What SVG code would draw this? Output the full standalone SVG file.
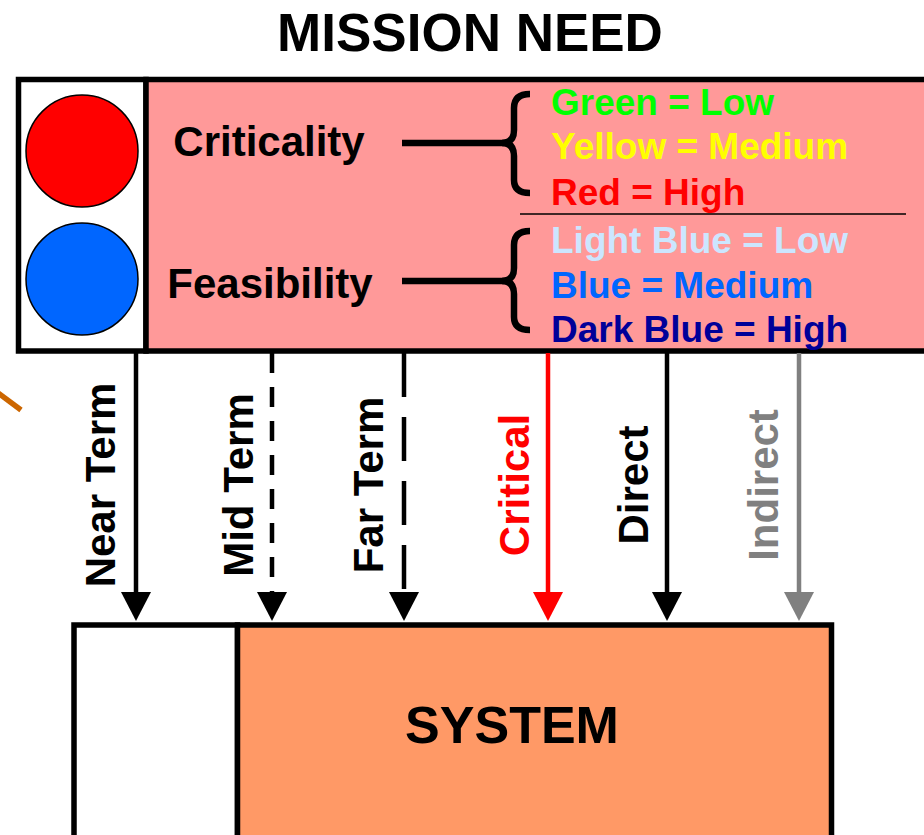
<svg xmlns="http://www.w3.org/2000/svg" width="924" height="835" viewBox="0 0 924 835">
<defs>
<style>
text{font-family:"Liberation Sans",Arial,sans-serif;font-weight:bold}
.box{stroke:#000;stroke-width:5.5}
.brace{fill:none;stroke:#000;stroke-width:6.5;stroke-linecap:butt}
.lbl{font-size:42px;text-anchor:middle}
.leg{font-size:37px}
.arr{stroke-width:4.5;fill:none}
</style>
</defs>
<rect width="924" height="835" fill="#fff"/>
<text x="470" y="51" font-size="53" text-anchor="middle" fill="#000">MISSION NEED</text>
<line x1="-10" y1="387" x2="21" y2="410" stroke="#CC6600" stroke-width="5.5"/>
<g id="mission-need">
<rect class="box" x="18.5" y="79.5" width="127.5" height="271.5" fill="#fff"/>
<rect class="box" x="146" y="79.5" width="790" height="271.5" fill="#FF9999"/>
<circle cx="82" cy="151" r="56" fill="#FF0000" stroke="#000" stroke-width="1.5"/>
<circle cx="82" cy="279" r="56" fill="#0066FF" stroke="#000" stroke-width="1.5"/>
<text class="lbl" x="269" y="156">Criticality</text>
<text class="lbl" x="270" y="298">Feasibility</text>
<line x1="402" y1="143" x2="507" y2="143" stroke="#000" stroke-width="6.5"/>
<path class="brace" d="M530 94 Q514 94 514 108 L514 130 Q514 143 502 143 Q514 143 514 156 L514 180 Q514 193 530 193"/>
<line x1="402" y1="281" x2="507" y2="281" stroke="#000" stroke-width="6.5"/>
<path class="brace" d="M530 231 Q514 231 514 245 L514 268 Q514 281 502 281 Q514 281 514 294 L514 317 Q514 330 530 330"/>
<line x1="520" y1="214" x2="906" y2="214" stroke="#000" stroke-width="1.5"/>
<text class="leg" x="551" y="115" fill="#00FF00">Green = Low</text>
<text class="leg" x="551" y="159" fill="#FFFF00">Yellow = Medium</text>
<text class="leg" x="551" y="205" fill="#FF0000">Red = High</text>
<text class="leg" x="551" y="253" fill="#CCE6FF">Light Blue = Low</text>
<text class="leg" x="551" y="298" fill="#0066FF">Blue = Medium</text>
<text class="leg" x="551" y="342" fill="#000099">Dark Blue = High</text>
</g>
<g id="system">
<rect class="box" x="74" y="625" width="163.5" height="230" fill="#fff"/>
<rect class="box" x="237.5" y="625" width="594" height="230" fill="#FF9966"/>
<text x="512" y="743" font-size="52" text-anchor="middle" fill="#000">SYSTEM</text>
</g>
<g id="connectors">
<line class="arr" x1="136" y1="353" x2="136" y2="593" stroke="#000"/>
<polygon points="121,592 151,592 136,621" fill="#000"/>
<line class="arr" x1="272" y1="353" x2="272" y2="593" stroke="#000" stroke-dasharray="20 14"/>
<polygon points="257,592 287,592 272,621" fill="#000"/>
<line class="arr" x1="404" y1="353" x2="404" y2="593" stroke="#000" stroke-dasharray="44 20"/>
<polygon points="389,592 419,592 404,621" fill="#000"/>
<line class="arr" x1="548" y1="353" x2="548" y2="593" stroke="#FF0000"/>
<polygon points="533,592 563,592 548,621" fill="#FF0000"/>
<line class="arr" x1="667" y1="353" x2="667" y2="593" stroke="#000"/>
<polygon points="652,592 682,592 667,621" fill="#000"/>
<line class="arr" x1="799" y1="353" x2="799" y2="593" stroke="#808080"/>
<polygon points="784,592 814,592 799,621" fill="#808080"/>
</g>
<g id="labels">
<text class="lbl" transform="translate(115 485) rotate(-90)" fill="#000">Near Term</text>
<text class="lbl" transform="translate(253 485) rotate(-90)" fill="#000">Mid Term</text>
<text class="lbl" transform="translate(383 485) rotate(-90)" fill="#000">Far Term</text>
<text class="lbl" transform="translate(529 485) rotate(-90)" fill="#FF0000">Critical</text>
<text class="lbl" transform="translate(648 485) rotate(-90)" fill="#000">Direct</text>
<text class="lbl" transform="translate(778 485) rotate(-90)" fill="#808080">Indirect</text>
</g>
</svg>
